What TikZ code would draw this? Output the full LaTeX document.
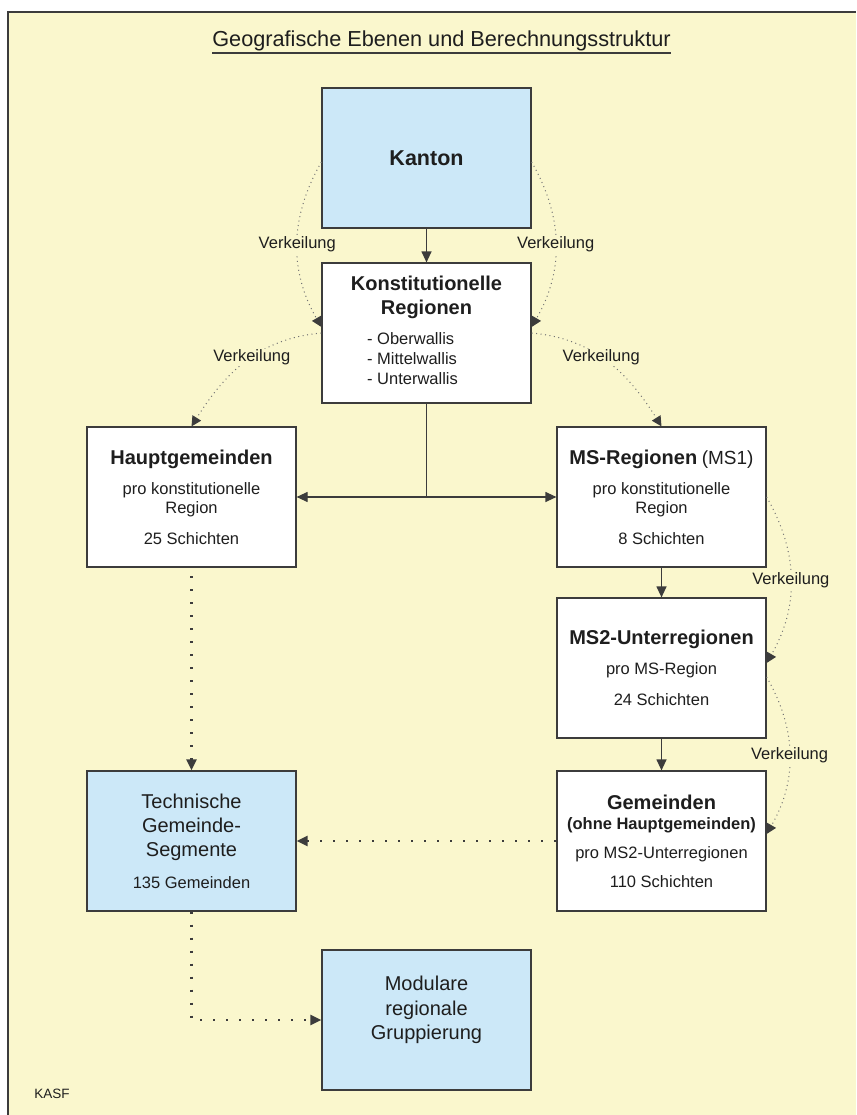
\documentclass[tikz,border=0pt]{standalone}
\usepackage{fontspec}
\setmainfont{Liberation Sans}
\usetikzlibrary{arrows.meta}
\definecolor{bgyel}{RGB}{250,247,205}
\definecolor{boxblue}{RGB}{204,232,248}
\definecolor{boxline}{RGB}{60,60,60}
\definecolor{txt}{RGB}{30,30,30}
\definecolor{dotgray}{RGB}{115,115,115}
\newcommand{\hd}[1]{{\bfseries\fontsize{20}{24}\selectfont #1}}
\newcommand{\gr}[1]{{\fontsize{20}{24}\selectfont #1}}
\tikzset{bx/.style={draw=boxline, line width=1.2pt, minimum width=209pt, minimum height=140pt, inner sep=0pt, align=center, text=txt, font=\fontsize{16.5}{19.6}\selectfont}}
\tikzset{wb/.style={bx, fill=white}}
\tikzset{bb/.style={bx, fill=boxblue}}
\tikzset{l/.style={font=\fontsize{16.5}{19.6}\selectfont, text=txt, fill=bgyel, inner sep=1pt}}
\tikzset{sl/.style={draw=boxline, line width=1.2pt, ->}}
\tikzset{dl/.style={draw=boxline, line width=2.2pt, dash pattern=on 2.2pt off 10.8pt, ->}}
\tikzset{vl/.style={draw=dotgray, line width=1pt, dash pattern=on 1pt off 3.5pt, -{Triangle[length=10pt,width=10pt,color=boxline]}}}

\begin{document}
\begin{tikzpicture}[x=1pt, y=1pt, >={Triangle[length=11pt,width=10pt]}]
        \useasboundingbox (0,0) rectangle (856,-1115);
        \fill[bgyel] (8,-12) rectangle (856,-1115);
        \draw[boxline, line width=1.3pt] (8,-1115) -- (8,-12) -- (856,-12);
        \node[anchor=base, inner sep=0pt, text=txt, font=\fontsize{21.7}{24}\selectfont] (title) at (441.5,-47) {Geografische Ebenen und Berechnungsstruktur};
        \draw[boxline, line width=1.3pt] ([yshift=-6pt]title.base west) -- ([yshift=-6pt]title.base east);
        \node[anchor=base, text=txt, font=\fontsize{13.5}{15}\selectfont] (kasf) at (52,-1098) {KASF};

        \node[bb, font=\bfseries\fontsize{21.5}{24}\selectfont] (kanton) at (426.5,-158) {Kanton};
        \node[wb] (konst) at (426.5,-333) {\hd{Konstitutionelle}\\[4.3pt]\hd{Regionen}\\[10.7pt]%
          \begin{tabular}[t]{@{}l@{}}- Oberwallis\\- Mittelwallis\\- Unterwallis\end{tabular}\hspace*{28pt}}
          edge [sl, <-] (kanton);
        \node[wb] (haupt) at (191.5,-497) {\hd{Hauptgemeinden}\\[10.4pt]pro konstitutionelle\\Region\\[11pt]25 Schichten};
        \node[wb] (ms) at (661.5,-497) {\hd{MS-Regionen} {\fontsize{19}{24}\selectfont(MS1)}\\[10.4pt]pro konstitutionelle\\Region\\[11pt]8 Schichten};
        \node[wb] (mstwo) at (661.5,-668) {\hd{MS2-Unterregionen}\\[10.4pt]pro MS-Region\\[11pt]24 Schichten}
          edge [sl, <-] (ms);
        \node[wb] (gem) at (661.5,-841) {\hd{Gemeinden}\\[0.4pt]\textbf{(ohne Hauptgemeinden)}\\[9.4pt]pro MS2-Unterregionen\\[9.7pt]110 Schichten}
          edge [sl, <-] (mstwo);
        \node[bb] (tech) at (191.5,-841) {\gr{Technische}\\[4.6pt]\gr{Gemeinde-}\\[4.6pt]\gr{Segmente}\\[12.1pt]135 Gemeinden}
          edge [dl, <-] (haupt)
          edge [dl, <-] (gem);
        \node[bb, font=\fontsize{20}{24.2}\selectfont] (mod) at (426.5,-1020) {Modulare\\regionale\\Gruppierung\\\mbox{}};

        \coordinate (split) at (426.5,-497);
        \draw[boxline, line width=1.2pt] (konst) -- (split);
        \draw[sl] (split) -- (haupt);
        \draw[sl] (split) -- (ms);
        \draw[dl] (tech) |- (mod);

        \draw[vl] ([yshift=-4pt]kanton.west) to[bend right=30] node[l] (v1) {Verkeilung} ([yshift=6pt]konst.west);
        \draw[vl] ([yshift=-4pt]kanton.east) to[bend left=30] node[l] (v2) {Verkeilung} ([yshift=6pt]konst.east);
        \draw[vl] (konst.west) to[out=185, in=58] node[l, pos=0.45] (v3) {Verkeilung} (haupt.north);
        \draw[vl] (konst.east) to[out=-5, in=122] node[l, pos=0.45] (v4) {Verkeilung} (ms.north);
        \draw[vl] (ms.east) to[bend left=30] node[l] (v5) {Verkeilung} ([yshift=5pt]mstwo.east);
        \draw[vl] ([yshift=-9pt]mstwo.east) to[bend left=30] node[l] (v6) {Verkeilung} ([yshift=7pt]gem.east);
      \end{tikzpicture}
\end{document}
